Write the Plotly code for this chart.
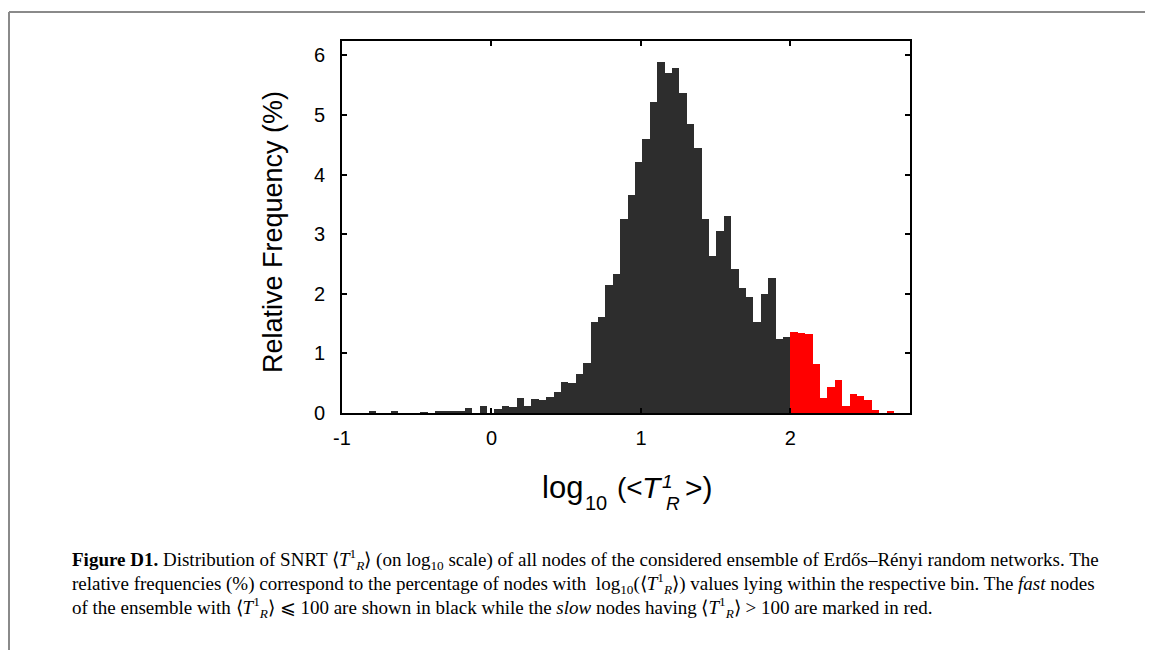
import plotly.graph_objects as go

# ---- data ----
bin_width = 0.0495          # histogram bin width in log10 units
split_edge = 2.0            # boundary between fast (black) and slow (red) nodes
# relative frequencies (%) of the fast nodes, bins ending at log10 = 2
fast_freq = [0.02, 0, 0, 0.02, 0, 0, 0, 0.015, 0, 0.02,
             0.03, 0.02, 0.04, 0.08, 0, 0.12, 0, 0.07, 0.12, 0.10,
             0.26, 0.12, 0.23, 0.22, 0.27, 0.35, 0.52, 0.50, 0.65, 0.84,
             1.52, 1.61, 2.14, 2.33, 3.26, 3.66, 4.21, 4.59, 5.22, 5.89,
             5.70, 5.79, 5.37, 4.85, 4.44, 3.25, 2.63, 3.05, 3.31, 2.42,
             2.09, 1.95, 1.53, 2.00, 2.26, 1.24, 1.28]
# relative frequencies (%) of the slow nodes, bins starting at log10 = 2
slow_freq = [1.36, 1.34, 1.33, 0.83, 0.25, 0.43, 0.55, 0.11, 0.32, 0.28,
             0.22, 0.05, 0, 0.02]
x_ticks = [-1, 0, 1, 2]
y_ticks = [0, 1, 2, 3, 4, 5, 6]

n_fast = len(fast_freq)
fast_x = [split_edge - (n_fast - i - 0.5) * bin_width for i in range(n_fast)]
slow_x = [split_edge + (i + 0.5) * bin_width for i in range(len(slow_freq))]

# ---- layout helpers: screen pixel -> paper (page body has an 8px margin) ----
OFF = 8
L, R, T, B = 342 - OFF, 910 - OFF, 41 - OFF, 413 - OFF
W, H = 1153, 650
def fx(p):
    return (p - OFF - L) / (R - L)
def fy(p):
    return (B - (p - OFF)) / (B - T)

fig = go.Figure()
fig.add_trace(go.Bar(x=fast_x, y=fast_freq, width=bin_width,
                     marker=dict(color="#2d2d2d", line=dict(width=0)),
                     showlegend=False))
fig.add_trace(go.Bar(x=slow_x, y=slow_freq, width=bin_width,
                     marker=dict(color="#ff0000", line=dict(width=0)),
                     showlegend=False))

SANS = "Liberation Sans, Arial, sans-serif"
axis_font = dict(family=SANS, size=20, color="black")
fig.update_layout(
    width=W, height=H,
    margin=dict(l=L, r=W - R, t=T, b=H - B, pad=0),
    paper_bgcolor="white", plot_bgcolor="white",
    bargap=0,
    xaxis=dict(range=[-1, 2.8], tickmode="array", tickvals=x_ticks,
               ticktext=[str(v) for v in x_ticks],
               ticks="inside", ticklen=5, tickwidth=2, tickcolor="black",
               showline=True, linewidth=2, linecolor="black", mirror="ticks",
               showgrid=False, zeroline=False, tickfont=axis_font,
               ticklabelstandoff=6),
    yaxis=dict(range=[0, 6.24], tickmode="array", tickvals=y_ticks,
               ticktext=[str(v) for v in y_ticks],
               ticks="inside", ticklen=5, tickwidth=2, tickcolor="black",
               showline=True, linewidth=2, linecolor="black", mirror="ticks",
               showgrid=False, zeroline=False, tickfont=axis_font,
               ticklabelstandoff=11),
)

annos = []
def add_text(text, x, y, size, xanchor="center", yanchor="middle", angle=0,
             family=SANS):
    annos.append(dict(text=text, x=fx(x), y=fy(y), xref="paper", yref="paper",
                      showarrow=False, xanchor=xanchor, yanchor=yanchor,
                      textangle=angle,
                      font=dict(family=family, size=size, color="black")))

# y axis title
add_text("Relative Frequency (%)", 273, 232, 27, angle=-90)
# x axis title, built from pieces so the super/subscript stack
add_text("log", 562, 487, 31)
add_text("10", 596, 503, 20)
add_text("(&lt;", 630, 487, 28)
add_text("<i>T</i>", 652, 487, 30)
add_text("<i>1</i>", 667, 481, 19)
add_text("<i>R</i>", 673, 503, 19)
add_text("&gt;)", 699, 487, 30)

# caption
TR = "⟨<i>T</i><sup>1</sup><sub><i>R</i></sub>⟩"
cap_lines = [
    "<b>Figure D1.</b> Distribution of SNRT " + TR + " (on log<sub>10</sub> scale) of all nodes of the considered ensemble of Erdős–Rényi random networks. The",
    "relative frequencies (%) correspond to the percentage of nodes with  log<sub>10</sub>(" + TR + ") values lying within the respective bin. The <i>fast</i> nodes",
    "of the ensemble with " + TR + " ⩽ 100 are shown in black while the <i>slow</i> nodes having " + TR + " > 100 are marked in red.",
]
cap_y = [559, 583, 607]
for line, yy in zip(cap_lines, cap_y):
    add_text(line, 70, yy, 19, xanchor="left",
             family="Liberation Serif, Times New Roman, serif")
fig.update_layout(annotations=annos)

# page frame lines
fig.add_shape(type="line", xref="paper", yref="paper", x0=fx(9), x1=fx(1160),
              y0=fy(12), y1=fy(12), line=dict(color="#8a8a8a", width=2))
fig.add_shape(type="line", xref="paper", yref="paper", x0=fx(9), x1=fx(9),
              y0=fy(12), y1=fy(660), line=dict(color="#8a8a8a", width=2))

fig.write_html("out.html")
